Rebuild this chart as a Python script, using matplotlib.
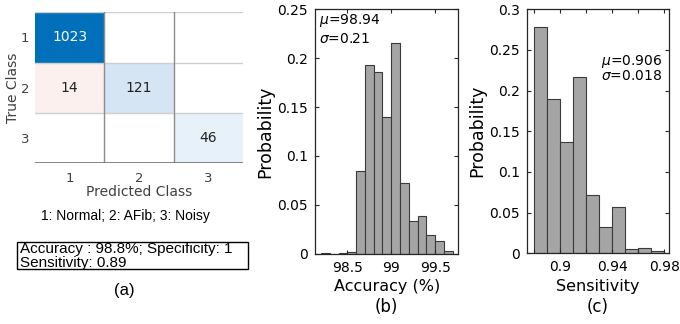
import matplotlib
matplotlib.use("Agg")
import matplotlib.pyplot as plt
from matplotlib.patches import Rectangle

# ---------------- data ----------------
classes = ["1", "2", "3"]
conf_counts = [[1023, 0, 0],
               [14, 121, 0],
               [0, 0, 46]]
conf_colors = [["#0070BB", "#FFFFFF", "#FFFFFF"],
               ["#FBF0EE", "#D5E5F3", "#FFFFFF"],
               ["#FFFFFF", "#FFFFFF", "#E7F1FA"]]
class_legend = "1: Normal; 2: AFib; 3: Noisy"
summary_lines = ["Accuracy : 98.8%; Specificity: 1", "Sensitivity: 0.89"]

acc_bin_left = [98.2, 98.3, 98.4, 98.5, 98.6, 98.7, 98.8, 98.9, 99.0,
                99.1, 99.2, 99.3, 99.4, 99.5, 99.6]
acc_prob = [0.001, 0.0, 0.001, 0.002, 0.085, 0.193, 0.186, 0.140, 0.216,
            0.072, 0.033, 0.039, 0.019, 0.013, 0.003]
acc_bin_width = 0.1
acc_mu, acc_sigma = "98.94", "0.21"

sen_bin_left = [0.88, 0.89, 0.90, 0.91, 0.92, 0.93, 0.94, 0.95, 0.96, 0.97]
sen_prob = [0.278, 0.190, 0.137, 0.217, 0.072, 0.032, 0.057, 0.005, 0.0065, 0.003]
sen_bin_width = 0.01
sen_mu, sen_sigma = "0.906", "0.018"

acc_xticks = [98.5, 99.0, 99.5]
acc_xticklabels = ["98.5", "99", "99.5"]
acc_yticks = [0, 0.05, 0.1, 0.15, 0.2, 0.25]
acc_yticklabels = ["0", "0.05", "0.1", "0.15", "0.2", "0.25"]
sen_xticks = [0.88, 0.90, 0.92, 0.94, 0.96, 0.98]
sen_xticklabels = ["", "0.9", "", "0.94", "", "0.98"]
sen_yticks = [0, 0.05, 0.1, 0.15, 0.2, 0.25, 0.3]
sen_yticklabels = ["0", "0.05", "0.1", "0.15", "0.2", "0.25", "0.3"]

# ---------------- figure ----------------
W, H = 680, 324
fig = plt.figure(figsize=(W / 100, H / 100), dpi=100)
plt.rcParams['font.family'] = ['DejaVu Sans']


def ax_px(left, top, right, bottom):
    return fig.add_axes([left / W, 1 - bottom / H, (right - left) / W, (bottom - top) / H])


# ---------------- (a) confusion matrix ----------------
axa = ax_px(35, 12.3, 243.3, 163.3)
n = len(classes)
for i in range(n):
    for j in range(n):
        axa.add_patch(Rectangle((j - 0.5, i - 0.5), 1, 1, facecolor=conf_colors[i][j],
                                edgecolor='none', zorder=1))
        v = conf_counts[i][j]
        if v:
            axa.text(j, i, str(v), ha='center', va='center', fontsize=10,
                     color='white' if v > 500 else '#222222', zorder=3)
axa.set_xlim(-0.5, n - 0.5)
axa.set_ylim(n - 0.5, -0.5)
for k in range(n + 1):
    axa.axhline(k - 0.5, color='#cfcfcf', lw=1.0, zorder=2)
for k in range(1, n):
    axa.axvline(k - 0.5, color='#8c8c8c', lw=1.0, zorder=2)
axa.axhline(n - 0.5, color='#707070', lw=1.2, zorder=2)
for s in axa.spines.values():
    s.set_visible(False)
axa.set_xticks(range(n))
axa.set_xticklabels(classes, fontsize=9.5, color='#404040')
axa.set_yticks(range(n))
axa.set_yticklabels(classes, fontsize=9.5, color='#404040')
axa.tick_params(axis='x', length=0, pad=6.5)
axa.tick_params(axis='y', length=0, pad=4)
axa.set_xlabel("Predicted Class", fontsize=10, color='#404040', va='center')
axa.xaxis.set_label_coords(0.5, (163.3 - 191.5) / 151)
axa.set_ylabel("True Class", fontsize=10, color='#404040', va='center')
axa.yaxis.set_label_coords((13 - 35) / 208.3, 0.5)

fig.text(125 / W, 1 - 216 / H, class_legend, ha='center', va='center', fontsize=10,
         family='Liberation Sans')
fig.add_artist(Rectangle((17 / W, 1 - 269 / H), (248 - 17) / W, (269 - 242.3) / H,
                         transform=fig.transFigure, facecolor='white', edgecolor='black',
                         lw=1.0))
fig.text(20 / W, 1 - 256 / H, "\n".join(summary_lines), ha='left', va='center',
         fontsize=11, linespacing=0.95, family='Liberation Sans')
fig.text(124 / W, 1 - 290 / H, "(a)", ha='center', va='center', fontsize=12,
         family='Liberation Sans')


# ---------------- histograms ----------------
def style_hist(ax):
    ax.tick_params(direction='in', top=True, right=True, length=3, width=0.8,
                   labelsize=10, pad=5, color='#262626')
    for s in ax.spines.values():
        s.set_color('#262626')
        s.set_linewidth(0.9)


axb = ax_px(315, 9.3, 458.3, 253.7)
axb.bar(acc_bin_left, acc_prob, width=acc_bin_width, align='edge',
        facecolor='#a5a5a5', edgecolor='#3a3a3a', linewidth=0.8)
axb.set_xlim(98.13, 99.765)
axb.set_ylim(0, 0.25)
axb.set_xticks(acc_xticks)
axb.set_xticklabels(acc_xticklabels)
axb.set_yticks(acc_yticks)
axb.set_yticklabels(acc_yticklabels)
style_hist(axb)
axb.set_ylabel("Probability", fontsize=12.5, va='center')
axb.yaxis.set_label_coords((265.5 - 315) / 143.3, 0.5)
axb.set_xlabel("Accuracy (%)", fontsize=11.5, va='center')
axb.xaxis.set_label_coords(0.5, (253.7 - 286.5) / 244.4)
axb.text(0.5, (253.7 - 307.5) / 244.4, "(b)", transform=axb.transAxes, ha='center',
         va='center', fontsize=12)
axb.text(0.025, 0.955, r"$\mu$=" + acc_mu, transform=axb.transAxes, ha='left',
         va='center', fontsize=10)
axb.text(0.025, 0.88, r"$\sigma$=" + acc_sigma, transform=axb.transAxes, ha='left',
         va='center', fontsize=10)

axc = ax_px(526.7, 9.3, 669, 253.3)
axc.bar(sen_bin_left, sen_prob, width=sen_bin_width, align='edge',
        facecolor='#a5a5a5', edgecolor='#3a3a3a', linewidth=0.8)
axc.set_xlim(0.8745, 0.9836)
axc.set_ylim(0, 0.3)
axc.set_xticks(sen_xticks)
axc.set_xticklabels(sen_xticklabels)
axc.set_yticks(sen_yticks)
axc.set_yticklabels(sen_yticklabels)
style_hist(axc)
axc.set_ylabel("Probability", fontsize=12.5, va='center')
axc.yaxis.set_label_coords((477.5 - 526.7) / 142.3, 0.5)
axc.set_xlabel("Sensitivity", fontsize=11.5, va='center')
axc.xaxis.set_label_coords(0.5, (253.3 - 286.5) / 244.0)
axc.text(0.5, (253.3 - 307.5) / 244.0, "(c)", transform=axc.transAxes, ha='center',
         va='center', fontsize=12)
axc.text(0.52, 1 - (61 - 9.3) / 244.0, r"$\mu$=" + sen_mu, transform=axc.transAxes,
         ha='left', va='center', fontsize=10)
axc.text(0.52, 1 - (75.5 - 9.3) / 244.0, r"$\sigma$=" + sen_sigma, transform=axc.transAxes,
         ha='left', va='center', fontsize=10)

fig.savefig("out.png", dpi=100)
